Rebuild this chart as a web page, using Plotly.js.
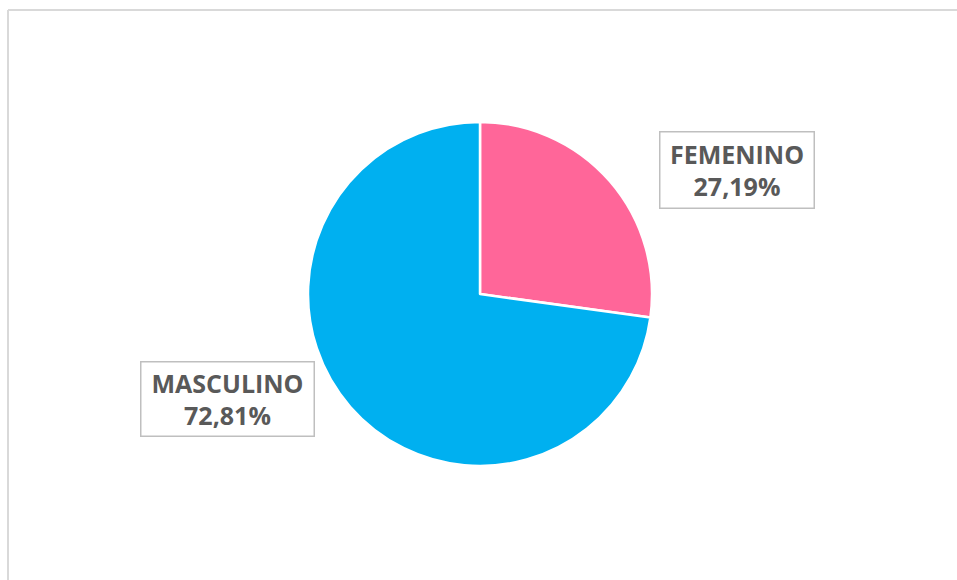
<!DOCTYPE html>
<html>
<head>
<meta charset="utf-8">
<script src="https://cdn.plot.ly/plotly-3.0.1.min.js"></script>
<style>html,body{margin:0;padding:0;background:#fff;}#chart{width:957px;height:580px;}</style>
</head>
<body>
<div id="chart"></div>
<script>
const categories = ["FEMENINO", "MASCULINO"];
const values = [27.19, 72.81];
const colors = ["#FF6699", "#00B0F0"];

const W = 957, H = 580;
const cx = 480, cy = 294, r = 172;

function fmt(v) { return v.toFixed(2).replace(".", ",") + "%"; }

const labelPos = [
  {x: 736.5, y: 169.5, w: 149, h: 71},
  {x: 227, y: 398.5, w: 168, h: 69}
];

const annotations = categories.map((c, i) => ({
  xref: "paper", yref: "paper",
  x: labelPos[i].x / W, y: 1 - labelPos[i].y / H,
  xanchor: "center", yanchor: "middle",
  text: "<b>" + c + "</b><br><b>" + fmt(values[i]) + "</b>",
  showarrow: false,
  font: {family: "Open Sans, sans-serif", size: 25, color: "#595959"},
  bordercolor: "#BFBFBF", borderwidth: 1.5, borderpad: 2,
  bgcolor: "#FFFFFF",
  width: labelPos[i].w, height: labelPos[i].h,
  align: "center", valign: "middle"
}));

const data = [{
  type: "pie",
  labels: categories,
  values: values,
  sort: false,
  direction: "clockwise",
  rotation: 0,
  marker: {colors: colors, line: {color: "#FFFFFF", width: 2.5}},
  textinfo: "none",
  hoverinfo: "label+percent",
  showlegend: false,
  domain: {x: [(cx - r) / W, (cx + r) / W], y: [(H - cy - r) / H, (H - cy + r) / H]}
}];

const layout = {
  width: W, height: H,
  margin: {l: 0, r: 0, t: 0, b: 0},
  paper_bgcolor: "#FFFFFF",
  showlegend: false,
  annotations: annotations,
  shapes: [
    {type: "line", xref: "paper", yref: "paper", x0: 8 / W, x1: 1.01, y0: 1 - 10 / H, y1: 1 - 10 / H, line: {color: "#D9D9D9", width: 2}},
    {type: "line", xref: "paper", yref: "paper", x0: 8 / W, x1: 8 / W, y0: 1 - 10 / H, y1: -0.01, line: {color: "#D9D9D9", width: 2}}
  ]
};

Plotly.newPlot("chart", data, layout, {displayModeBar: false, staticPlot: true});
</script>
</body>
</html>
